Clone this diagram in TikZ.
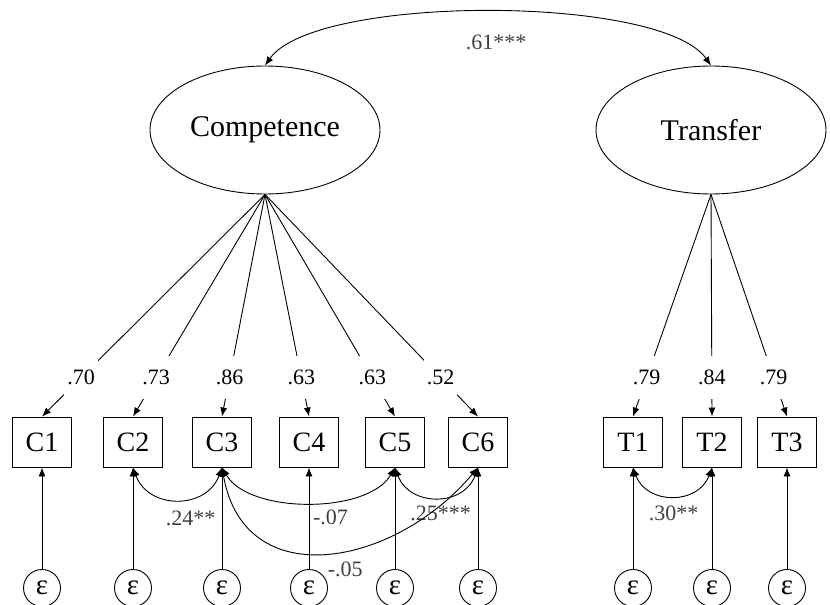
\documentclass[tikz,border=0pt]{standalone}
\usepackage{fontspec}
\setmainfont{Liberation Serif}
\usepackage{tikz}
\usetikzlibrary{arrows, arrows.meta}
\usetikzlibrary{shapes}

\begin{document}
\begin{tikzpicture}[x=1pt, y=-1pt, line width=0.9pt, >={Latex[length=9pt,width=7pt]},
					every node/.style = {font=\fontsize{22}{26}\selectfont}]

\tikzstyle{latent} = [ellipse, draw, minimum width=230pt, minimum height=128pt, inner sep=0pt, font=\fontsize{30}{36}\selectfont]
\tikzstyle{indicator} = [rectangle, draw, minimum width=59pt, minimum height=50pt, inner sep=0pt, font=\fontsize{28}{32}\selectfont]
\tikzstyle{error} = [circle, draw, minimum size=37pt, inner sep=0pt, font=\fontsize{29}{32}\selectfont]
\tikzstyle{loading} = [pos=0.825, fill=white, inner xsep=3pt, inner ysep=14pt]
\tikzstyle{covlabel} = [text=black!75]

\useasboundingbox (0,0) rectangle (830,605);

\node[latent] (comp) at (265,130) {Competence};
\node[latent] (trans) at (711,130) {Transfer};

\foreach \n/\x in {1/42, 2/133, 3/222, 4/309, 5/395, 6/478} {
	\node[indicator] (c\n) at (\x,442) {C\n};
	\node[error] (ec\n) at (\x,588) {ε};
	\draw[->] (ec\n) -- (c\n);
}
\foreach \n/\x in {1/633, 2/712, 3/787} {
	\node[indicator] (t\n) at (\x,442) {T\n};
	\node[error] (et\n) at (\x,588) {ε};
	\draw[->] (et\n) -- (t\n);
}

\foreach \n/\v in {1/.70, 2/.73, 3/.86, 4/.63, 5/.63, 6/.52}
	\draw[->] (comp.south) -- node[loading] {\v} (c\n.north);
\foreach \n/\v in {1/.79, 2/.84, 3/.79}
	\draw[->] (trans.south) -- node[loading] {\v} (t\n.north);

\draw[<->] (comp.north) to[out=55, in=125, looseness=0.5]
	node[covlabel, pos=0.5, xshift=8pt, yshift=-30pt] {.61***} (trans.north);

\draw[<->] (c2.south) to[out=-70, in=-110, looseness=1.3]
	node[covlabel, pos=0.5, xshift=13pt, yshift=-19pt] {.24**} (c3.south);
\draw[<->] (c3.south) to[out=-60, in=-120, looseness=0.8]
	node[covlabel, pos=0.5, xshift=22pt, yshift=-15pt] {-.07} (c5.south);
\draw[<->] (c5.south) to[out=-70, in=-110, looseness=1.3]
	node[covlabel, pos=0.5, xshift=4pt, yshift=-16pt] {.25***} (c6.south);
\draw[<->] (c3.south) to[out=-80, in=-130, looseness=1.3]
	node[covlabel, pos=0.5, xshift=18pt, yshift=-17pt] {-.05} (c6.south);
\draw[<->] (t1.south) to[out=-70, in=-110, looseness=1.3]
	node[covlabel, pos=0.5, xshift=1pt, yshift=-18pt] {.30**} (t2.south);
\end{tikzpicture}
\end{document}
